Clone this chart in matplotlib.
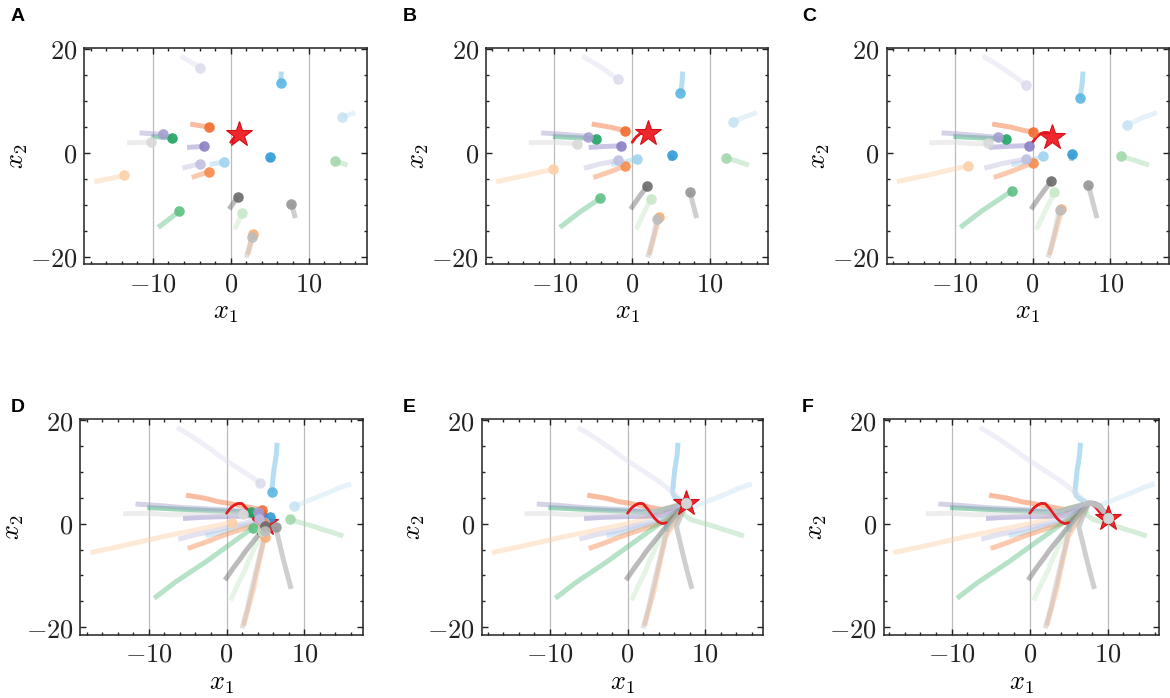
import matplotlib
matplotlib.use("Agg")
import matplotlib.pyplot as plt
from matplotlib.ticker import MultipleLocator, FuncFormatter

# ---------------- data ----------------
panel_labels = ["A", "B", "C", "D", "E", "F"]

# target (red star) path
target_x = [0.0, 0.5, 1.0, 1.5, 2.0, 2.5, 3.0, 3.5, 4.0, 4.5, 5.0,
            5.5, 6.0, 6.5, 7.0, 7.5, 8.0, 8.5, 9.0, 9.5, 10.0]
target_y = [2.0, 3.0, 3.6, 3.9, 3.85, 3.0, 2.0, 1.0, 0.3, 0.0, 0.2,
            1.0, 2.0, 3.0, 3.7, 3.9, 3.7, 3.0, 2.1, 1.3, 1.0]
target_step = [2, 4, 5, 10, 15, 20]   # time step shown in panels A..F

# agent colours (20 agents)
agent_colors = ['#2e9bd6', '#5cb6e4', '#9fd3ee', '#c9e3f4',
                '#f26b2e', '#f88b4c', '#fbad76', '#fdd0a8',
                '#1fa463', '#5ebf84', '#a3d8ab', '#c8e8c8',
                '#8a80c4', '#a49ed0', '#c0bfe0', '#dcdcee',
                '#6a6a6a', '#969696', '#bdbdbd', '#d9d9d9']

# initial positions
x_init = [5.0, 6.5, -2.7, 16.0, -5.2, -5.0, 2.2, -17.5, -10.2, -9.3,
          15.0, 0.5, -5.6, -11.7, -6.2, -6.4, -0.2, 8.3, 2.0, -13.3]
y_init = [-1.6, 15.6, -2.3, 7.7, 5.5, -4.8, -19.7, -5.6, 3.1, -14.4,
          -2.4, -14.8, 1.0, 3.8, -3.0, 18.6, -10.9, -12.6, -20.2, 1.9]
# positions in panel A
x_a = [5.05, 6.4, -0.9, 14.3, -2.8, -2.8, 2.9, -13.7, -7.5, -6.6,
       13.4, 1.5, -3.4, -8.7, -3.9, -3.9, 0.9, 7.8, 2.7, -10.2]
y_a = [-0.9, 13.4, -1.8, 6.8, 4.9, -3.65, -15.7, -4.4, 2.9, -11.3,
       -1.6, -11.6, 1.2, 3.5, -2.1, 16.3, -8.5, -9.8, -16.3, 2.0]
# positions in panel B
x_b = [5.1, 6.2, 0.56, 12.9, -0.94, -0.94, 3.5, -10.2, -4.7, -4.1,
       12.06, 2.4, -1.5, -5.7, -1.8, -1.8, 1.9, 7.4, 3.2, -7.1]
y_b = [-0.45, 11.4, -1.15, 5.85, 4.2, -2.55, -12.4, -3.2, 2.7, -8.8,
       -1.0, -8.9, 1.3, 3.1, -1.5, 14.1, -6.5, -7.5, -12.8, 1.7]
# positions in panel C
x_c = [5.06, 6.1, 1.3, 12.1, 0.0, 0.0, 3.7, -8.3, -3.4, -2.7,
       11.4, 2.7, -0.5, -4.4, -0.86, -0.86, 2.4, 7.2, 3.5, -5.7]
y_c = [-0.2, 10.6, -0.7, 5.4, 4.0, -2.05, -10.8, -2.55, 2.6, -7.4,
       -0.63, -7.6, 1.35, 3.0, -1.15, 13.0, -5.4, -6.3, -11.0, 1.8]
# positions in panel D
x_d = [5.6, 5.8, 4.8, 8.7, 4.5, 4.7, 4.9, 0.7, 3.2, 3.4,
       8.1, 4.6, 4.3, 4.0, 4.2, 4.3, 5.0, 6.3, 5.0, 2.1]
y_d = [1.2, 6.2, 0.4, 3.35, 2.7, 0.3, -2.6, 0.2, 2.2, -0.8,
       0.8, -1.5, 1.5, 2.3, 0.8, 7.9, -0.5, -0.6, -1.5, 1.9]
# extra bends between panel D and E for two agents
bend_x = {1: [6.0, 6.6], 10: [7.3, 7.2]}
bend_y = {1: [5.3, 4.6], 10: [1.7, 2.7]}
# common bundle followed between panel E and F
bundle_x = [8.2, 8.9, 9.5]
bundle_y = [3.9, 3.4, 2.3]

# ---------------- style ----------------
plt.rcParams['mathtext.fontset'] = 'cm'
plt.rcParams['font.family'] = ['DejaVu Serif']

W, H = 1170, 698
fig = plt.figure(figsize=(W / 100, H / 100), dpi=100)

rects = [(84.3, 47.7, 367.0, 264.3), (486.0, 47.7, 768.3, 264.3),
         (886.5, 47.7, 1168.5, 264.3), (80.3, 419.0, 362.7, 635.0),
         (481.7, 419.0, 763.3, 635.0), (883.7, 419.0, 1159.3, 635.0)]
xlims = [(-18.8, 17.5)] * 5 + [(-18.7, 16.6)]
letter_pos = [(11, 8), (403, 8), (802, 8), (11, 399), (403, 399), (802, 399)]

fmt = FuncFormatter(lambda v, p: r'$%d$' % int(round(v)))

for k in range(6):
    l, t, r, b = rects[k]
    ax = fig.add_axes([l / W, 1 - b / H, (r - l) / W, (b - t) / H])
    ax.set_xlim(*xlims[k])
    ax.set_ylim(-21.5, 20.2)
    ax.xaxis.set_major_locator(MultipleLocator(10))
    ax.xaxis.set_minor_locator(MultipleLocator(2))
    ax.yaxis.set_major_locator(MultipleLocator(20))
    ax.yaxis.set_minor_locator(MultipleLocator(5))
    ax.xaxis.set_major_formatter(fmt)
    ax.yaxis.set_major_formatter(fmt)
    ax.tick_params(which='both', direction='in', top=True, right=True,
                   labelsize=19, width=1.0, colors='#222222')
    ax.tick_params(which='major', length=4.5, pad=5)
    ax.tick_params(which='minor', length=2.5)
    for s in ax.spines.values():
        s.set_linewidth(1.1)
        s.set_color('#222222')
    ax.set_axisbelow(True)
    ax.grid(axis='x', which='major', color='#bcbcbc', lw=0.9)
    ax.set_xlabel(r'$x_1$', fontsize=19, labelpad=3)
    ax.set_ylabel(r'$x_2$', fontsize=19, labelpad=0)

    ts = target_step[k]
    # red target path (full path below the trails, early part on top)
    ax.plot(target_x[:ts + 1], target_y[:ts + 1], color='#e8191f', lw=1.8,
            zorder=2, solid_capstyle='round')
    ax.plot(target_x[:min(ts, 10) + 1], target_y[:min(ts, 10) + 1],
            color='#e8191f', lw=1.8, zorder=3.5, solid_capstyle='round')

    # agent trails
    for i in range(20):
        px = [x_init[i], x_a[i], x_b[i], x_c[i], x_d[i]]
        py = [y_init[i], y_a[i], y_b[i], y_c[i], y_d[i]]
        if k <= 3:
            px = px[:k + 2]
            py = py[:k + 2]
            dx, dy = px[-1], py[-1]
        else:
            px = px + bend_x.get(i, []) + [target_x[15]]
            py = py + bend_y.get(i, []) + [target_y[15]]
            if k == 5:
                px = px + bundle_x + [target_x[20]]
                py = py + bundle_y + [target_y[20]]
            dx, dy = target_x[ts], target_y[ts]
        ax.plot(px, py, color=agent_colors[i], lw=3.6, alpha=0.45,
                solid_capstyle='butt', solid_joinstyle='round', zorder=3)
        ax.plot([dx], [dy], 'o', color=agent_colors[i], ms=7.6, mew=0,
                alpha=0.9, zorder=5)

    # target star
    ax.plot([target_x[ts]], [target_y[ts]], marker='*', ms=19,
            mfc='#f0282d', mec='#d01018', mew=0.8, zorder=4)

    fig.text(letter_pos[k][0] / W, 1 - letter_pos[k][1] / H, panel_labels[k],
             fontsize=14, fontweight='bold', family='Liberation Sans',
             ha='left', va='top')

fig.savefig("out.png", dpi=100)
